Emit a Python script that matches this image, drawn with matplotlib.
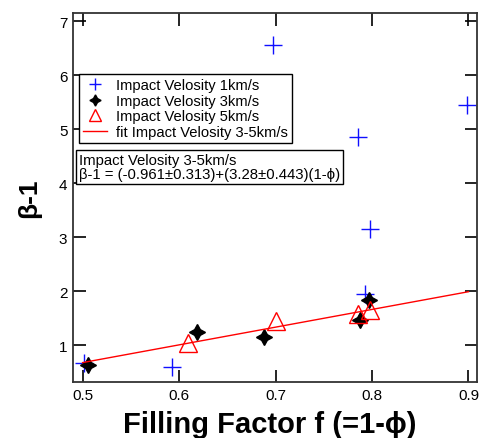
import numpy as np
import matplotlib.pyplot as plt

plt.rcParams['font.family'] = ['Liberation Sans', 'DejaVu Sans']

# Impact velocity 1 km/s
f_1 = [0.697, 0.898, 0.786, 0.798, 0.793, 0.501, 0.593]
b_1 = [6.56, 5.44, 4.86, 3.15, 1.95, 0.67, 0.59]

# Impact velocity 3 km/s
f_3 = [0.506, 0.619, 0.688, 0.788, 0.797]
b_3 = [0.636, 1.247, 1.148, 1.46, 1.84]

# Impact velocity 5 km/s
f_5 = [0.609, 0.701, 0.786, 0.798]
b_5 = [1.05, 1.45, 1.58, 1.65]

# fit 3-5 km/s
a_fit = -0.961
b_fit = 3.28
f_fit = np.array([0.5, 0.9])

fig = plt.figure(figsize=(4.8, 4.39), dpi=100)
ax = fig.add_axes([0.152, 0.1276, 0.842, 0.8404])

ax.plot(f_1, b_1, ls='none', marker='+', ms=12.5, mew=1.0, color='#1010ff',
        label='Impact Velosity 1km/s')
ax.plot(f_3, b_3, ls='none', marker=(4, 1, 0), ms=11.5, color='black',
        label='Impact Velosity 3km/s')
ax.plot(f_5, b_5, ls='none', marker='^', ms=12.5, mfc='none', mew=1.0, color='red',
        label='Impact Velosity 5km/s')
ax.plot(f_fit, a_fit + b_fit * f_fit, color='red', lw=1.0,
        label='fit Impact Velosity 3-5km/s')

ax.set_xlim(0.49, 0.909)
ax.set_ylim(0.32, 7.15)
ax.set_xticks([0.5, 0.6, 0.7, 0.8, 0.9])
ax.set_xticklabels(['0.5', '0.6', '0.7', '0.8', '0.9'])
ax.set_yticks([1, 2, 3, 4, 5, 6, 7])
ax.tick_params(direction='in', length=9, width=1.2, top=True, right=True,
               labelsize=11, colors='black', pad=4)
for s in ax.spines.values():
    s.set_linewidth(1.3)
    s.set_color('#333333')

ax.set_xlabel('Filling Factor f (=1-ϕ)', fontsize=21, fontweight='bold')
ax.xaxis.set_label_coords(0.486, -0.075)
ax.set_ylabel('β-1', fontsize=19, fontweight='bold')
ax.yaxis.set_label_coords(-0.08, 0.5)

leg = ax.legend(loc='upper left', bbox_to_anchor=(0.015, 0.835), borderaxespad=0,
                fancybox=False, framealpha=1, edgecolor='black', fontsize=10.6,
                handlelength=1.6, handletextpad=0.6, markerscale=0.7,
                borderpad=0.3, labelspacing=0.1)
leg.get_frame().set_linewidth(1.0)

ax.text(0.015, 0.622, 'Impact Velosity 3-5km/s\nβ-1 = (-0.961±0.313)+(3.28±0.443)(1-ϕ)',
        transform=ax.transAxes, va='top', ha='left', fontsize=10.75, linespacing=1.05,
        bbox=dict(boxstyle='square,pad=0.2', fc='white', ec='black', lw=1.0))

fig.savefig('out.png', dpi=100)
